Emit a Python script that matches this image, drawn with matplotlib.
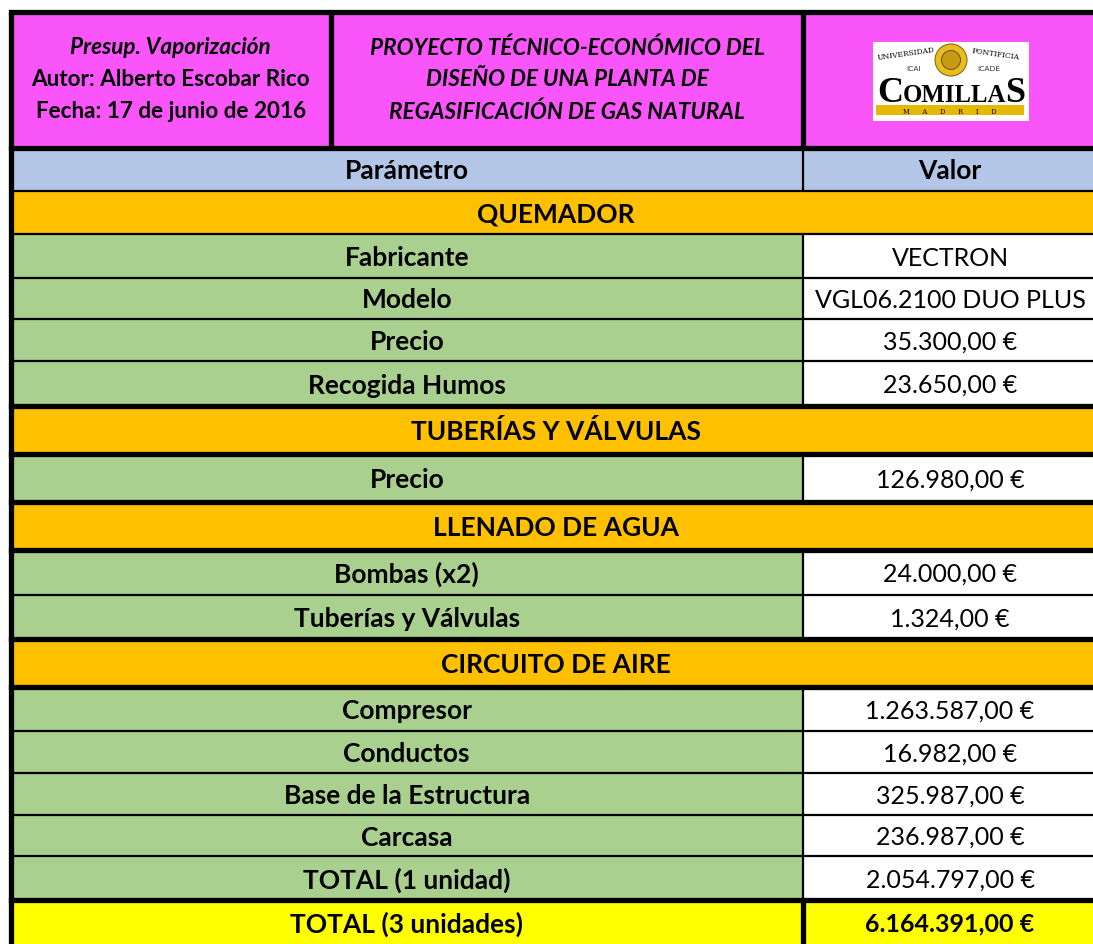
import matplotlib
matplotlib.use("Agg")
import matplotlib.pyplot as plt
from matplotlib.patches import Rectangle, Circle

# table content
header_left = ["Presup. Vaporización", "Autor: Alberto Escobar Rico", "Fecha: 17 de junio de 2016"]
header_title = ["PROYECTO TÉCNICO-ECONÓMICO DEL", "DISEÑO DE UNA PLANTA DE", "REGASIFICACIÓN DE GAS NATURAL"]
col_titles = ["Parámetro", "Valor"]
row_kind = ["section", "item", "item", "item", "item",
            "section", "item",
            "section", "item", "item",
            "section", "item", "item", "item", "item", "item", "total"]
row_label = ["QUEMADOR", "Fabricante", "Modelo", "Precio", "Recogida Humos",
             "TUBERÍAS Y VÁLVULAS", "Precio",
             "LLENADO DE AGUA", "Bombas (x2)", "Tuberías y Válvulas",
             "CIRCUITO DE AIRE", "Compresor", "Conductos", "Base de la Estructura", "Carcasa",
             "TOTAL (1 unidad)", "TOTAL (3 unidades)"]
row_value = ["", "VECTRON", "VGL06.2100 DUO PLUS", "35.300,00 €", "23.650,00 €",
             "", "126.980,00 €",
             "", "24.000,00 €", "1.324,00 €",
             "", "1.263.587,00 €", "16.982,00 €", "325.987,00 €", "236.987,00 €",
             "2.054.797,00 €", "6.164.391,00 €"]

# layout (pixels)
W, H = 1093, 945
x_left, x_mid_head, x_div, x_right = 10.5, 331, 803, 1093
y_top, y_head_bot, y_cols_bot = 12.5, 148.5, 192
row_edges = [192, 235, 279, 320, 362, 407, 455, 503, 551, 596, 640, 688, 732, 774, 816, 857, 901, 945]

PINK = "#FA55FA"
BLUE = "#B4C6E7"
ORANGE = "#FFC000"
GREEN = "#A9D08E"
YELLOW = "#FFFF00"
THIN, THICK = 1.6, 3.8
FONT = "Lato"
FS_HEAD = 16.2
FS_LAB = 19
FS_VAL = 18

fig = plt.figure(figsize=(W / 100, H / 100), dpi=100)
ax = fig.add_axes([0, 0, 1, 1])
ax.set_xlim(0, W)
ax.set_ylim(H, 0)
ax.axis("off")


def box(x0, y0, x1, y1, color):
    ax.add_patch(Rectangle((x0, y0), x1 - x0, y1 - y0, facecolor=color, edgecolor="none", zorder=1))


def hline(y, x0, x1, lw):
    ax.plot([x0, x1], [y, y], color="black", lw=lw, solid_capstyle="projecting", zorder=5)


def vline(x, y0, y1, lw):
    ax.plot([x, x], [y0, y1], color="black", lw=lw, solid_capstyle="butt", zorder=5)


# header band
box(x_left, y_top, x_right, y_head_bot, PINK)
for i, t in enumerate(header_left):
    ax.text((x_left + x_mid_head) / 2, 48 + i * 32, t, ha="center", va="center",
            fontsize=FS_HEAD, fontweight="bold", style="italic" if i == 0 else "normal",
            family=FONT, zorder=6)
for i, t in enumerate(header_title):
    ax.text((x_mid_head + x_div) / 2, 48 + i * 32, t, ha="center", va="center",
            fontsize=FS_HEAD, fontweight="bold", style="italic", family=FONT, zorder=6)

# logo
box(873, 43, 1029, 122, "white")
ax.add_patch(Circle((951, 61), 16, facecolor="#E8BE1E", edgecolor="#8A6A10", lw=0.8, zorder=3))
ax.add_patch(Circle((951, 61), 9.5, facecolor="#C79A14", edgecolor="#5A4408", lw=0.6, zorder=3))
ax.text(906, 54, "UNIVERSIDAD", ha="center", va="center", fontsize=5.4, family="DejaVu Serif",
        rotation=8, zorder=4)
ax.text(996, 54, "PONTIFICIA", ha="center", va="center", fontsize=5.4, family="DejaVu Serif",
        rotation=-8, zorder=4)
ax.text(914, 69, "ICAI", ha="center", va="center", fontsize=5.4, family="DejaVu Sans", color="#333333", zorder=4)
ax.text(989, 69, "ICADE", ha="center", va="center", fontsize=5.4, family="DejaVu Sans", color="#333333", zorder=4)

fig.canvas.draw()
renderer = fig.canvas.get_renderer()
x_cursor = 877
for part, fs in [("C", 26), ("OMILLA", 17.8), ("S", 26)]:
    t = ax.text(x_cursor, 102, part, ha="left", va="baseline", fontsize=fs,
                family="Liberation Serif", fontweight="bold", zorder=4)
    x_cursor = t.get_window_extent(renderer).x1 - 0.5
box(876, 106, 1024, 116, "#E6B800")
ax.text(950, 111.5, "M      A      D      R      I      D", ha="center", va="center", fontsize=4.8,
        family="DejaVu Serif", zorder=4)

# column titles
box(x_left, y_head_bot, x_right, y_cols_bot, BLUE)
ax.text((x_left + x_div) / 2, 171, col_titles[0], ha="center", va="center", fontsize=FS_LAB,
        fontweight="bold", family=FONT, zorder=6)
ax.text((x_div + x_right) / 2 + 2, 171, col_titles[1], ha="center", va="center", fontsize=FS_LAB,
        fontweight="bold", family=FONT, zorder=6)

# body rows
for i, (kind, lab, val) in enumerate(zip(row_kind, row_label, row_value)):
    y0, y1 = row_edges[i], row_edges[i + 1]
    yc = (y0 + y1) / 2 + 1
    if kind == "section":
        box(x_left, y0, x_right, y1, ORANGE)
        ax.text(556, yc, lab, ha="center", va="center", fontsize=FS_LAB,
                fontweight="bold", family=FONT, zorder=6)
        continue
    left_c = YELLOW if kind == "total" else GREEN
    right_c = YELLOW if kind == "total" else "white"
    box(x_left, y0, x_div, y1, left_c)
    box(x_div, y0, x_right, y1, right_c)
    ax.text((x_left + x_div) / 2, yc, lab, ha="center", va="center", fontsize=FS_LAB,
            fontweight="bold", family=FONT, zorder=6)
    ax.text((x_div + x_right) / 2 + 2, yc, val, ha="center", va="center", fontsize=FS_VAL,
            fontweight="bold" if kind == "total" else "normal", family=FONT, zorder=6)

# grid lines
hline(y_top, x_left, x_right, THICK)
hline(y_head_bot, x_left, x_right, THICK)
hline(y_cols_bot, x_left, x_right, THIN)
thick_rows = {407, 455, 503, 551, 640, 688, 901}
for e in row_edges[1:-1]:
    hline(e, x_left, x_right, THICK if e in thick_rows else THIN)
vline(x_left, y_top, H, THICK)
vline(x_mid_head, y_top, y_head_bot, THICK)
vline(x_div, y_top, y_head_bot, THICK)
vline(x_div, y_head_bot, y_cols_bot, THIN)
for i, kind in enumerate(row_kind):
    if kind == "item":
        vline(x_div, row_edges[i], row_edges[i + 1], THIN)
    elif kind == "total":
        vline(x_div, row_edges[i], row_edges[i + 1], THICK)

fig.savefig("out.png", dpi=100)
